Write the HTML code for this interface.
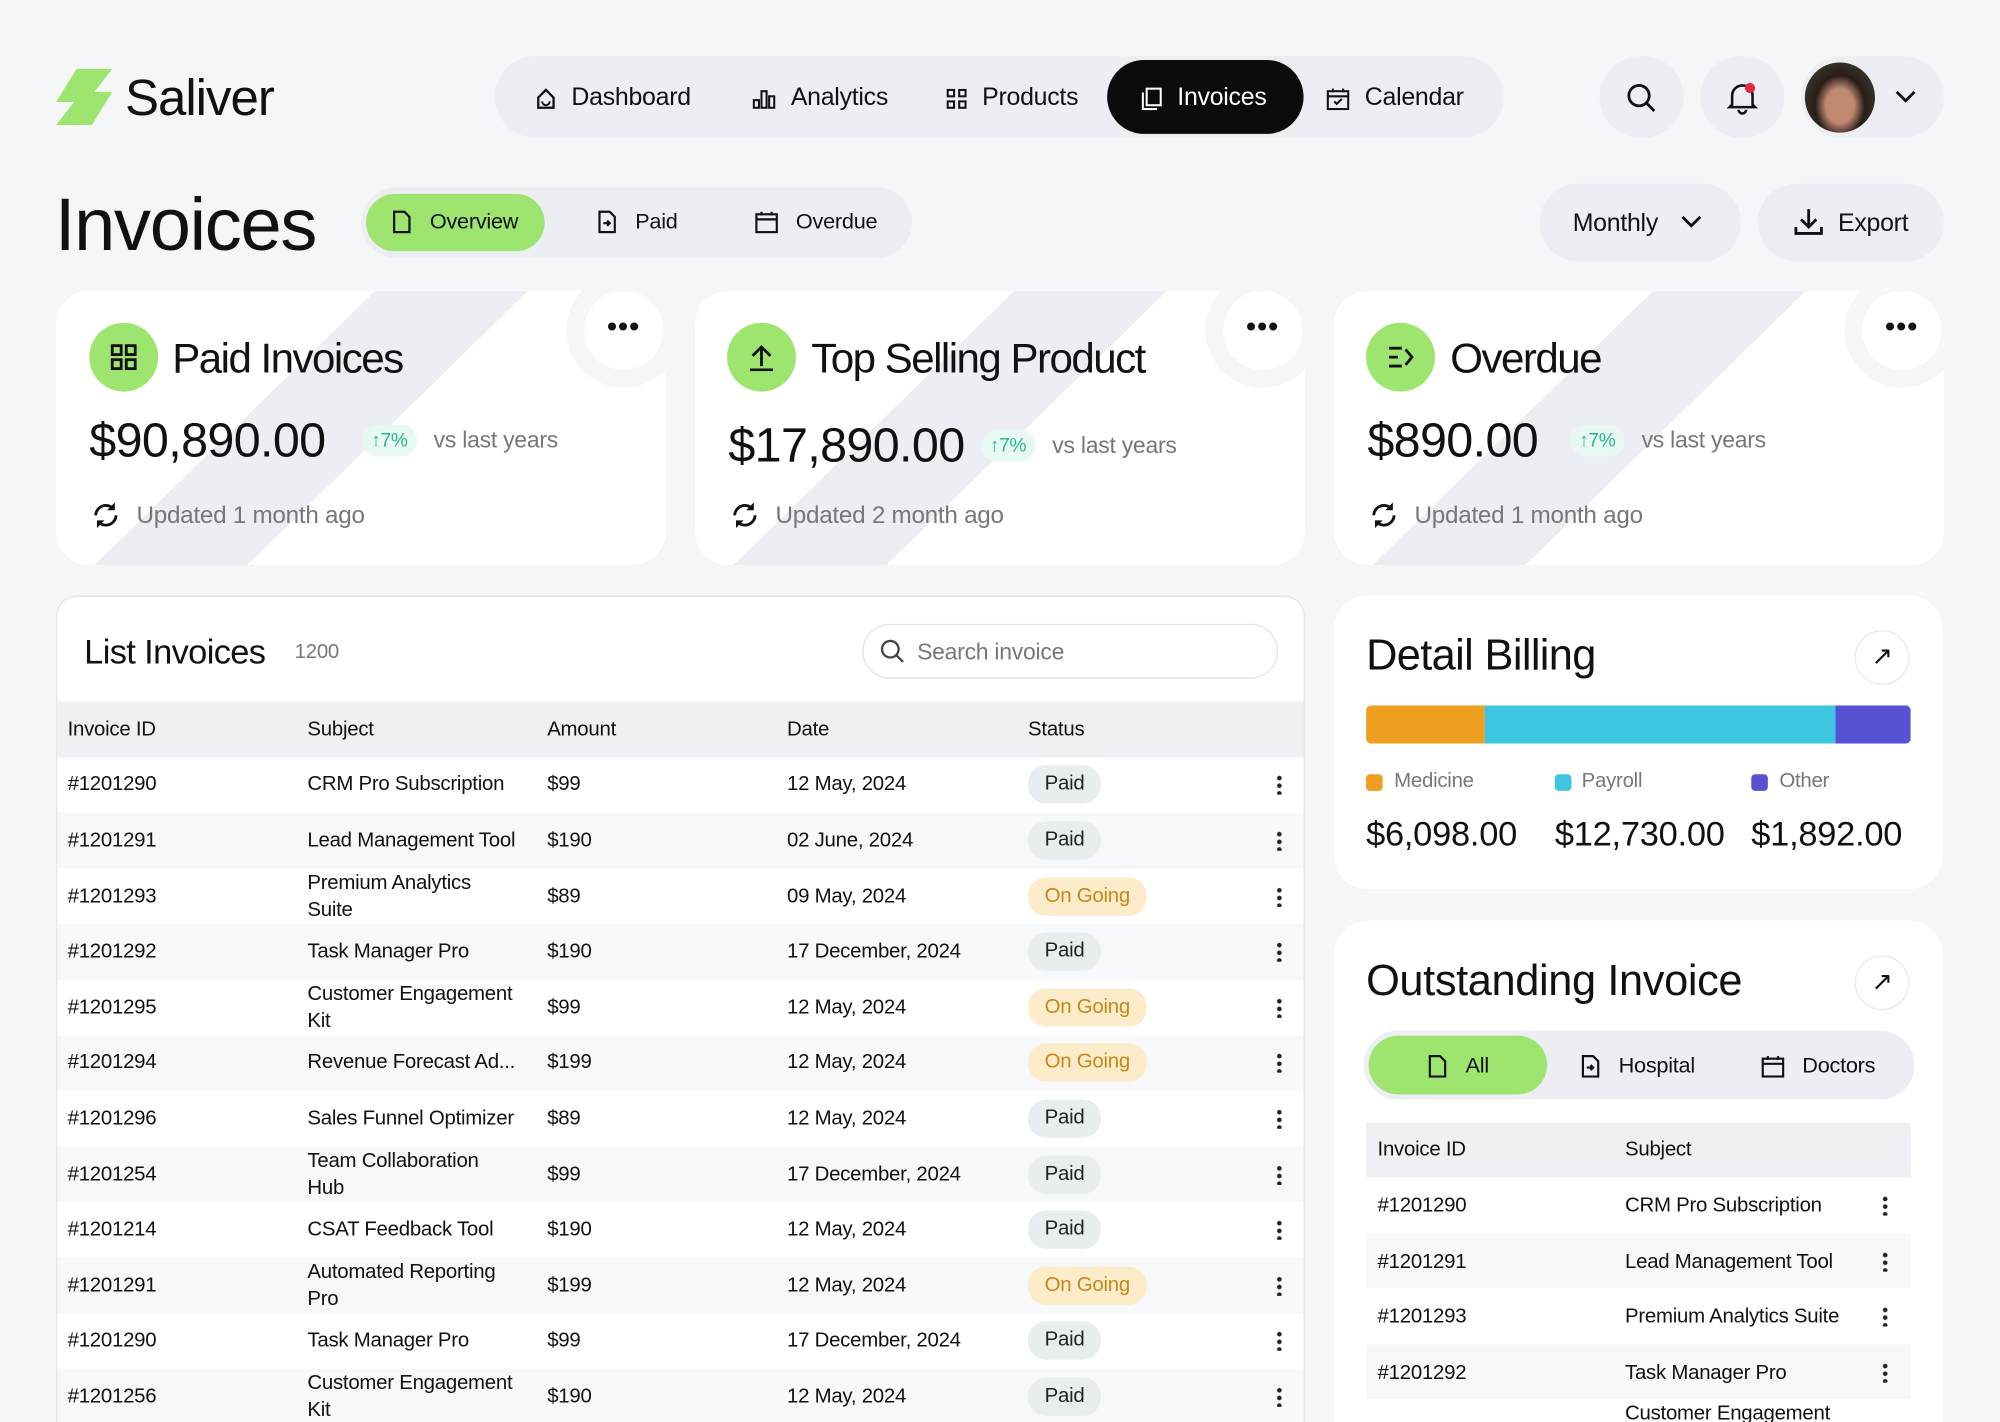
<!DOCTYPE html>
<html><head><meta charset="utf-8"><style>
*{margin:0;padding:0;box-sizing:border-box}
html,body{width:2000px;height:1422px;overflow:hidden;background:#f5f6f8}
#r{position:absolute;left:0;top:0;width:1568px;height:1115px;overflow:hidden;transform:scale(1.27551);transform-origin:0 0;font-family:"Liberation Sans",sans-serif;color:#111;letter-spacing:-0.2px}
.a{position:absolute}
.pill{position:absolute;background:#eceef3;border-radius:40px}
.nav{position:absolute;top:77px;transform:translateY(-50%);font-size:19.5px;display:flex;align-items:center;gap:12px}
.card{position:absolute;background:#fff;border-radius:26px;overflow:hidden}
.dots{position:absolute;width:62px;height:62px;border-radius:50%;background:#fff;box-shadow:0 0 0 14px #f5f6f8;text-align:center;line-height:56px;font-size:22px;font-weight:bold;letter-spacing:1px}
.ic{position:absolute;width:54px;height:54px;border-radius:50%;background:#9ee56f;display:flex;align-items:center;justify-content:center}
.big{position:absolute;font-size:38px;letter-spacing:-0.5px}
.badge{position:absolute;background:#e8f8f2;color:#2bb886;font-size:15px;border-radius:14px;padding:4px 7px}
.gray{color:#777}
.row{position:absolute;left:0;width:978px;height:43.6px;font-size:16px}
.row div{position:absolute;top:50%;transform:translateY(-50%);line-height:21px}
.st{padding:5px 13px;border-radius:14px;font-size:16px;line-height:20px!important}
.paid{background:#e8edf0;color:#222}
.go{background:#fcecc9;color:#c8871a}
.kb{position:absolute;right:18px;top:50%;transform:translateY(-50%);width:4px;height:16px;background:radial-gradient(circle,#222 1.6px,transparent 2px) 0 0/4px 6px repeat-y}
.t{position:absolute;font-size:17px;display:flex;align-items:center;gap:14px}
</style></head><body><div id="r">
<svg class="a" style="left:44px;top:54px" width="46" height="46" viewBox="0 0 46 46"><polygon points="16,0 44,0 30,18 44,18 28,44 0,44 14,26 0,26" fill="#9ee56f"/></svg>
<div class="a" style="left:98px;top:55px;font-size:40px;letter-spacing:-0.8px">Saliver</div>
<div class="pill" style="left:388px;top:44px;width:791px;height:64px"></div>
<div class="nav" style="left:420px"><svg width="16" height="18"><path d="M2 8 L8 2 L14 8 V16 H2 Z" fill="none" stroke="#111" stroke-width="1.8"/><path d="M5 11 a3 3 0 0 0 6 0" fill="none" stroke="#111" stroke-width="1.5"/></svg>Dashboard</div>
<div class="nav" style="left:590px"><svg width="18" height="16"><g fill="none" stroke="#111" stroke-width="1.6"><rect x="1" y="9" width="4" height="6"/><rect x="7" y="2" width="4" height="13"/><rect x="13" y="6" width="4" height="9"/></g></svg>Analytics</div>
<div class="nav" style="left:742px"><svg width="16" height="16"><g fill="none" stroke="#111" stroke-width="1.6"><rect x="1" y="1" width="5" height="5"/><rect x="10" y="1" width="5" height="5"/><rect x="1" y="10" width="5" height="5"/><rect x="10" y="10" width="5" height="5"/></g></svg>Products</div>
<div class="a" style="left:868px;top:47px;width:154px;height:58px;background:#0b0b0b;border-radius:30px"></div>
<div class="nav" style="left:895px;color:#fff"><svg width="16" height="18"><g fill="none" stroke="#fff" stroke-width="1.6"><rect x="4" y="1" width="11" height="13"/><path d="M1 4 V17 H12"/></g></svg>Invoices</div>
<div class="nav" style="left:1040px"><svg width="18" height="18"><g fill="none" stroke="#111" stroke-width="1.6"><rect x="1" y="3" width="16" height="14"/><path d="M1 7 H17 M5 1 V4 M13 1 V4 M6 11 L8 13 L12 9"/></g></svg>Calendar</div>
<div class="pill" style="left:1254px;top:44px;width:66px;height:64px"></div>
<svg class="a" style="left:1274px;top:64px" width="26" height="26" viewBox="0 0 26 26"><circle cx="11" cy="11" r="8" fill="none" stroke="#111" stroke-width="2.2"/><line x1="17" y1="17" x2="23" y2="23" stroke="#111" stroke-width="2.2"/></svg>
<div class="pill" style="left:1333px;top:44px;width:66px;height:64px"></div>
<svg class="a" style="left:1353px;top:63px" width="26" height="28" viewBox="0 0 26 28"><path d="M5 19 V12 a8 8 0 0 1 16 0 V19 L23 21 H3 Z" fill="none" stroke="#111" stroke-width="2"/><path d="M10 23 a3 3 0 0 0 6 0" fill="none" stroke="#111" stroke-width="2"/><circle cx="19" cy="6" r="4" fill="#e8283f"/></svg>
<div class="pill" style="left:1412px;top:44px;width:112px;height:64px"></div>
<div class="a" style="left:1415px;top:49px;width:55px;height:55px;border-radius:50%;background:radial-gradient(ellipse at 50% 62%,#c08a72 0 28%,#2a1d18 50%,#3f4a3a 100%)"></div>
<svg class="a" style="left:1485px;top:69px" width="18" height="14" viewBox="0 0 18 14"><polyline points="2,3 9,10 16,3" fill="none" stroke="#111" stroke-width="2.2"/></svg>
<div class="a" style="left:43px;top:143px;font-size:58px;letter-spacing:-1px">Invoices</div>
<div class="pill" style="left:283px;top:147px;width:432px;height:55px"></div>
<div class="a" style="left:287px;top:152px;width:140px;height:45px;background:#9ee56f;border-radius:24px"></div>
<div class="t" style="left:307px;top:164px"><svg width="16" height="18"><path d="M2 1 H10 L14 5 V17 H2 Z" fill="none" stroke="#111" stroke-width="1.7"/></svg>Overview</div>
<div class="t" style="left:468px;top:164px"><svg width="16" height="18"><path d="M2 1 H10 L14 5 V17 H2 Z M5 10 H10 M8 8 L10 10 L8 12" fill="none" stroke="#111" stroke-width="1.7"/></svg>Paid</div>
<div class="t" style="left:592px;top:164px"><svg width="18" height="18"><g fill="none" stroke="#111" stroke-width="1.7"><rect x="1" y="3" width="16" height="14"/><path d="M1 7 H17 M5 1 V4 M13 1 V4"/></g></svg>Overdue</div>
<div class="pill" style="left:1207px;top:144px;width:158px;height:61px"></div>
<div class="a" style="left:1233px;top:164px;font-size:19.5px">Monthly</div>
<svg class="a" style="left:1317px;top:167px" width="18" height="14" viewBox="0 0 18 14"><polyline points="2,3 9,10 16,3" fill="none" stroke="#111" stroke-width="2.2"/></svg>
<div class="pill" style="left:1378px;top:144px;width:146px;height:61px"></div>
<svg class="a" style="left:1405px;top:161px" width="26" height="26" viewBox="0 0 26 26"><path d="M13 3 V16 M7 11 L13 17 L19 11 M3 17 V22 H23 V17" fill="none" stroke="#111" stroke-width="2.2"/></svg>
<div class="a" style="left:1441px;top:164px;font-size:19.5px">Export</div>

<div class="card" style="left:44px;top:228px;width:478px;height:215px"><svg class="a" style="left:0;top:0" width="478" height="215"><polygon points="250,0 370,0 150,215 30,215" fill="#eceef3"/></svg></div>
<div class="dots" style="left:458px;top:228px">•••</div>
<div class="ic" style="left:70px;top:253px"><svg width="22" height="22"><g fill="none" stroke="#111" stroke-width="2.2"><rect x="2" y="2" width="7" height="7"/><rect x="13" y="2" width="7" height="7"/><rect x="2" y="13" width="7" height="7"/><rect x="13" y="13" width="7" height="7"/></g></svg></div>
<div class="a" style="left:135px;top:262px;font-size:33px;letter-spacing:-1.2px">Paid Invoices</div>
<div class="big" style="left:70px;top:325px">$90,890.00</div>
<div class="badge" style="left:284px;top:333px">↑7%</div>
<div class="a gray" style="left:340px;top:335px;font-size:18px">vs last years</div>
<svg class="a" style="left:71px;top:392px" width="24" height="24"><g fill="none" stroke="#111" stroke-width="2.2"><path d="M4 12 a8 8 0 0 1 14 -5"/><path d="M20 12 a8 8 0 0 1 -14 5"/></g><path d="M19 2 V8 H13 Z M5 22 V16 H11 Z" fill="#111"/></svg>
<div class="a gray" style="left:107px;top:394px;font-size:19px">Updated 1 month ago</div>

<div class="card" style="left:545px;top:228px;width:478px;height:215px"><svg class="a" style="left:0;top:0" width="478" height="215"><polygon points="250,0 370,0 150,215 30,215" fill="#eceef3"/></svg></div>
<div class="dots" style="left:959px;top:228px">•••</div>
<div class="ic" style="left:570px;top:253px"><svg width="22" height="22"><path d="M11 18 V3 M4 10 L11 3 L18 10 M2 21 H20" fill="none" stroke="#111" stroke-width="2.2"/></svg></div>
<div class="a" style="left:636px;top:262px;font-size:33px;letter-spacing:-1.2px">Top Selling Product</div>
<div class="big" style="left:571px;top:329px">$17,890.00</div>
<div class="badge" style="left:769px;top:337px">↑7%</div>
<div class="a gray" style="left:825px;top:339px;font-size:18px">vs last years</div>
<svg class="a" style="left:572px;top:392px" width="24" height="24"><g fill="none" stroke="#111" stroke-width="2.2"><path d="M4 12 a8 8 0 0 1 14 -5"/><path d="M20 12 a8 8 0 0 1 -14 5"/></g><path d="M19 2 V8 H13 Z M5 22 V16 H11 Z" fill="#111"/></svg>
<div class="a gray" style="left:608px;top:394px;font-size:19px">Updated 2 month ago</div>

<div class="card" style="left:1046px;top:228px;width:478px;height:215px"><svg class="a" style="left:0;top:0" width="478" height="215"><polygon points="250,0 370,0 150,215 30,215" fill="#eceef3"/></svg></div>
<div class="dots" style="left:1460px;top:228px">•••</div>
<div class="ic" style="left:1071px;top:253px"><svg width="22" height="22"><path d="M2 4 H12 M2 11 H9 M2 18 H12 M15 5 L20 11 L15 17" fill="none" stroke="#111" stroke-width="2.2"/></svg></div>
<div class="a" style="left:1137px;top:262px;font-size:33px;letter-spacing:-1.2px">Overdue</div>
<div class="big" style="left:1072px;top:325px">$890.00</div>
<div class="badge" style="left:1231px;top:333px">↑7%</div>
<div class="a gray" style="left:1287px;top:335px;font-size:18px">vs last years</div>
<svg class="a" style="left:1073px;top:392px" width="24" height="24"><g fill="none" stroke="#111" stroke-width="2.2"><path d="M4 12 a8 8 0 0 1 14 -5"/><path d="M20 12 a8 8 0 0 1 -14 5"/></g><path d="M19 2 V8 H13 Z M5 22 V16 H11 Z" fill="#111"/></svg>
<div class="a gray" style="left:1109px;top:394px;font-size:19px">Updated 1 month ago</div>

<div class="card" style="left:44px;top:467px;width:979px;height:700px;border:1px solid #e3e5ea;border-radius:16px">
<div class="a" style="left:21px;top:28px;font-size:27px;letter-spacing:-0.5px">List Invoices</div>
<div class="a gray" style="left:186px;top:35px;font-size:16px">1200</div>
<div class="a" style="left:631px;top:21px;width:326px;height:43px;border:1px solid #dfe2e7;border-radius:22px"></div>
<svg class="a" style="left:645px;top:33px" width="20" height="20"><circle cx="8" cy="8" r="6.5" fill="none" stroke="#444" stroke-width="1.8"/><line x1="13" y1="13" x2="18" y2="18" stroke="#444" stroke-width="1.8"/></svg>
<div class="a gray" style="left:674px;top:33px;font-size:18px">Search invoice</div>
<div class="row" style="top:82px;background:#eef0f4"><div style="left:8px">Invoice ID</div><div style="left:196px">Subject</div><div style="left:384px">Amount</div><div style="left:572px">Date</div><div style="left:761px">Status</div></div>
<div class="row" style="top:125.6px"><div style="left:8px">#1201290</div><div style="left:196px">CRM Pro Subscription</div><div style="left:384px">$99</div><div style="left:572px">12 May, 2024</div><div class="st paid" style="left:761px">Paid</div><span class="kb"></span></div>
<div class="row" style="top:169.2px;background:#f7f8fa"><div style="left:8px">#1201291</div><div style="left:196px">Lead Management Tool</div><div style="left:384px">$190</div><div style="left:572px">02 June, 2024</div><div class="st paid" style="left:761px">Paid</div><span class="kb"></span></div>
<div class="row" style="top:212.8px"><div style="left:8px">#1201293</div><div style="left:196px">Premium Analytics<br>Suite</div><div style="left:384px">$89</div><div style="left:572px">09 May, 2024</div><div class="st go" style="left:761px">On Going</div><span class="kb"></span></div>
<div class="row" style="top:256.4px;background:#f7f8fa"><div style="left:8px">#1201292</div><div style="left:196px">Task Manager Pro</div><div style="left:384px">$190</div><div style="left:572px">17 December, 2024</div><div class="st paid" style="left:761px">Paid</div><span class="kb"></span></div>
<div class="row" style="top:300px"><div style="left:8px">#1201295</div><div style="left:196px">Customer Engagement<br>Kit</div><div style="left:384px">$99</div><div style="left:572px">12 May, 2024</div><div class="st go" style="left:761px">On Going</div><span class="kb"></span></div>
<div class="row" style="top:343.6px;background:#f7f8fa"><div style="left:8px">#1201294</div><div style="left:196px">Revenue Forecast Ad...</div><div style="left:384px">$199</div><div style="left:572px">12 May, 2024</div><div class="st go" style="left:761px">On Going</div><span class="kb"></span></div>
<div class="row" style="top:387.2px"><div style="left:8px">#1201296</div><div style="left:196px">Sales Funnel Optimizer</div><div style="left:384px">$89</div><div style="left:572px">12 May, 2024</div><div class="st paid" style="left:761px">Paid</div><span class="kb"></span></div>
<div class="row" style="top:430.8px;background:#f7f8fa"><div style="left:8px">#1201254</div><div style="left:196px">Team Collaboration<br>Hub</div><div style="left:384px">$99</div><div style="left:572px">17 December, 2024</div><div class="st paid" style="left:761px">Paid</div><span class="kb"></span></div>
<div class="row" style="top:474.4px"><div style="left:8px">#1201214</div><div style="left:196px">CSAT Feedback Tool</div><div style="left:384px">$190</div><div style="left:572px">12 May, 2024</div><div class="st paid" style="left:761px">Paid</div><span class="kb"></span></div>
<div class="row" style="top:518px;background:#f7f8fa"><div style="left:8px">#1201291</div><div style="left:196px">Automated Reporting<br>Pro</div><div style="left:384px">$199</div><div style="left:572px">12 May, 2024</div><div class="st go" style="left:761px">On Going</div><span class="kb"></span></div>
<div class="row" style="top:561.6px"><div style="left:8px">#1201290</div><div style="left:196px">Task Manager Pro</div><div style="left:384px">$99</div><div style="left:572px">17 December, 2024</div><div class="st paid" style="left:761px">Paid</div><span class="kb"></span></div>
<div class="row" style="top:605.2px;background:#f7f8fa"><div style="left:8px">#1201256</div><div style="left:196px">Customer Engagement<br>Kit</div><div style="left:384px">$190</div><div style="left:572px">12 May, 2024</div><div class="st paid" style="left:761px">Paid</div><span class="kb"></span></div>
</div>

<div class="card" style="left:1046px;top:467px;width:477px;height:230px">
<div class="a" style="left:25px;top:28px;font-size:34px;letter-spacing:-0.5px">Detail Billing</div>
<div class="a" style="left:408px;top:27px;width:43px;height:43px;border-radius:50%;border:1px solid #e6e8ec;text-align:center;line-height:40px;font-size:20px">↗</div>
<div class="a" style="left:25px;top:86px;width:427px;height:30px;border-radius:4px;overflow:hidden;display:flex"><div style="width:93px;background:#ee9f20"></div><div style="width:275px;background:#3ec6e0"></div><div style="flex:1;background:#5752d1"></div></div>
<div class="a" style="left:25px;top:140px;width:13px;height:13px;border-radius:3px;background:#ee9f20"></div>
<div class="a gray" style="left:47px;top:137px;font-size:16px">Medicine</div>
<div class="a" style="left:173px;top:140px;width:13px;height:13px;border-radius:3px;background:#3ec6e0"></div>
<div class="a gray" style="left:194px;top:137px;font-size:16px">Payroll</div>
<div class="a" style="left:327px;top:140px;width:13px;height:13px;border-radius:3px;background:#5752d1"></div>
<div class="a gray" style="left:349px;top:137px;font-size:16px">Other</div>
<div class="a" style="left:25px;top:172px;font-size:27px">$6,098.00</div>
<div class="a" style="left:173px;top:172px;font-size:27px">$12,730.00</div>
<div class="a" style="left:327px;top:172px;font-size:27px">$1,892.00</div>
</div>

<div class="card" style="left:1046px;top:722px;width:477px;height:420px">
<div class="a" style="left:25px;top:28px;font-size:34px;letter-spacing:-0.3px">Outstanding Invoice</div>
<div class="a" style="left:408px;top:27px;width:43px;height:43px;border-radius:50%;border:1px solid #e6e8ec;text-align:center;line-height:40px;font-size:20px">↗</div>
<div class="a" style="left:23px;top:86px;width:432px;height:54px;background:#eceef3;border-radius:27px"></div>
<div class="a" style="left:27px;top:90px;width:140px;height:46px;background:#9ee56f;border-radius:24px"></div>
<div class="t" style="left:73px;top:104px"><svg width="16" height="18"><path d="M2 1 H10 L14 5 V17 H2 Z" fill="none" stroke="#111" stroke-width="1.7"/></svg>All</div>
<div class="t" style="left:193px;top:104px"><svg width="16" height="18"><path d="M2 1 H10 L14 5 V17 H2 Z M5 10 H10 M8 8 L10 10 L8 12" fill="none" stroke="#111" stroke-width="1.7"/></svg>Hospital</div>
<div class="t" style="left:335px;top:104px"><svg width="18" height="18"><g fill="none" stroke="#111" stroke-width="1.7"><rect x="1" y="3" width="16" height="14"/><path d="M1 7 H17 M5 1 V4 M13 1 V4"/></g></svg>Doctors</div>
<div class="a" style="left:25px;top:158px;width:427px;height:43px;background:#eef0f4"></div>
<div class="a" style="left:34px;top:171px;font-size:16px">Invoice ID</div>
<div class="a" style="left:228px;top:171px;font-size:16px">Subject</div>
<div class="a" style="left:25px;top:245px;width:427px;height:43px;background:#f7f8fa"></div>
<div class="a" style="left:25px;top:332px;width:427px;height:43px;background:#f7f8fa"></div>
<div class="a" style="left:34px;top:215px;font-size:16px">#1201290</div><div class="a" style="left:228px;top:215px;font-size:16px">CRM Pro Subscription</div>
<div class="a" style="left:34px;top:259px;font-size:16px">#1201291</div><div class="a" style="left:228px;top:259px;font-size:16px">Lead Management Tool</div>
<div class="a" style="left:34px;top:302px;font-size:16px">#1201293</div><div class="a" style="left:228px;top:302px;font-size:16px">Premium Analytics Suite</div>
<div class="a" style="left:34px;top:346px;font-size:16px">#1201292</div><div class="a" style="left:228px;top:346px;font-size:16px">Task Manager Pro</div>
<div class="a" style="left:228px;top:378px;font-size:16px">Customer Engagement</div>
<div class="a" style="left:430px;top:215px;width:4px;height:16px;background:radial-gradient(circle,#222 1.6px,transparent 2px) 0 0/4px 6px repeat-y"></div>
<div class="a" style="left:430px;top:259px;width:4px;height:16px;background:radial-gradient(circle,#222 1.6px,transparent 2px) 0 0/4px 6px repeat-y"></div>
<div class="a" style="left:430px;top:302px;width:4px;height:16px;background:radial-gradient(circle,#222 1.6px,transparent 2px) 0 0/4px 6px repeat-y"></div>
<div class="a" style="left:430px;top:346px;width:4px;height:16px;background:radial-gradient(circle,#222 1.6px,transparent 2px) 0 0/4px 6px repeat-y"></div>
</div>
</div></body></html>
